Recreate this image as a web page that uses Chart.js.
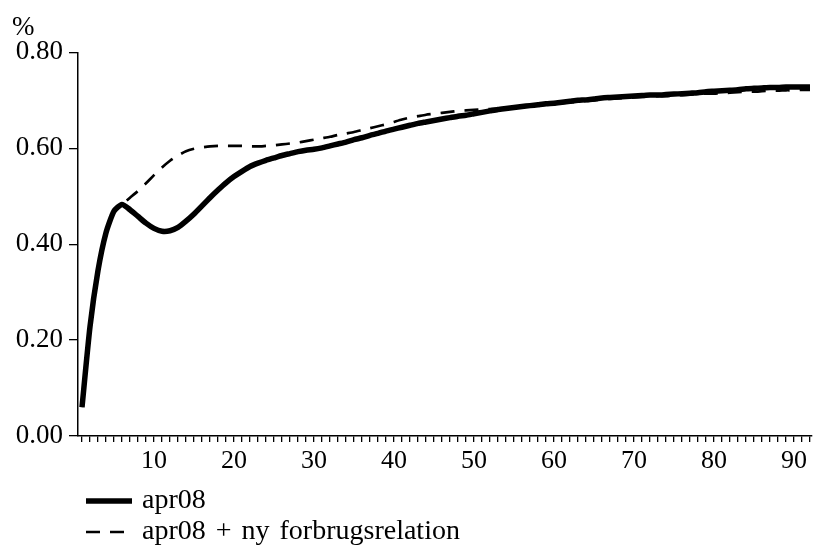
<!DOCTYPE html>
<html>
<head>
<meta charset="utf-8">
<script src="https://cdn.jsdelivr.net/npm/chart.js@4.4.1/dist/chart.umd.min.js"></script>
<style>
	html, body { margin: 0; padding: 0; background: #fff; }
</style>
</head>
<body>
<canvas id="myChart" width="814" height="545"></canvas>
<script>
// categories (days / periods)
var days = [1, 2, 3, 4, 5, 6, 7, 8, 9, 10, 11, 12, 13, 14, 15, 16, 17, 18, 19, 20,
	21, 22, 23, 24, 25, 26, 27, 28, 29, 30, 31, 32, 33, 34, 35, 36, 37, 38, 39, 40,
	41, 42, 43, 44, 45, 46, 47, 48, 49, 50, 51, 52, 53, 54, 55, 56, 57, 58, 59, 60,
	61, 62, 63, 64, 65, 66, 67, 68, 69, 70, 71, 72, 73, 74, 75, 76, 77, 78, 79, 80,
	81, 82, 83, 84, 85, 86, 87, 88, 89, 90, 91, 92]

var apr08 = [0.060, 0.228, 0.345, 0.424, 0.469, 0.483, 0.472, 0.458, 0.444, 0.433,
	0.427, 0.428, 0.435, 0.448, 0.463, 0.480, 0.497, 0.513, 0.528, 0.541,
	0.552, 0.562, 0.569, 0.575, 0.580, 0.585, 0.589, 0.593, 0.596, 0.598,
	0.601, 0.605, 0.609, 0.613, 0.618, 0.622, 0.627, 0.631, 0.636, 0.640,
	0.644, 0.648, 0.652, 0.655, 0.658, 0.661, 0.664, 0.667, 0.669, 0.672,
	0.675, 0.678, 0.681, 0.683, 0.685, 0.687, 0.689, 0.691, 0.693, 0.694,
	0.696, 0.698, 0.700, 0.701, 0.703, 0.705, 0.706, 0.707, 0.708, 0.709,
	0.710, 0.711, 0.711, 0.712, 0.713, 0.714, 0.715, 0.716, 0.718, 0.719,
	0.720, 0.721, 0.722, 0.724, 0.725, 0.726, 0.727, 0.727, 0.728, 0.728,
	0.728, 0.728]

var apr08Ny = [0.060, 0.228, 0.345, 0.424, 0.469, 0.483, 0.497, 0.511, 0.527, 0.544,
	0.560, 0.574, 0.585, 0.594, 0.599, 0.602, 0.604, 0.605, 0.605, 0.605,
	0.605, 0.604, 0.604, 0.605, 0.606, 0.608, 0.610, 0.612, 0.615, 0.618,
	0.621, 0.624, 0.628, 0.631, 0.634, 0.638, 0.642, 0.646, 0.650, 0.655,
	0.660, 0.664, 0.667, 0.670, 0.672, 0.674, 0.676, 0.678, 0.679, 0.680,
	0.681, 0.682, 0.683, 0.684, 0.685, 0.686, 0.688, 0.689, 0.691, 0.692,
	0.694, 0.696, 0.697, 0.699, 0.700, 0.702, 0.703, 0.704, 0.705, 0.706,
	0.707, 0.708, 0.709, 0.709, 0.710, 0.711, 0.712, 0.713, 0.714, 0.714,
	0.715, 0.716, 0.717, 0.718, 0.718, 0.719, 0.720, 0.720, 0.721, 0.721,
	0.722, 0.722]

var yTicks = [0, 0.2, 0.4, 0.6, 0.8]
var seriesNames = ['apr08', 'apr08 + ny forbrugsrelation']
var unitLabel = '%'

var serif = '"Liberation Serif", "Times New Roman", serif'

// legend drawn as two rows under the x axis
var legendRows = {
	id: 'legendRows',
	afterDraw: function(chart) {
		var c = chart.ctx
		var area = chart.chartArea
		chart.data.datasets.forEach(function(ds, i) {
			var x = area.left + 8
			var y = area.bottom + 65 + i * 31
			c.save()
			c.strokeStyle = ds.borderColor
			c.lineWidth = ds.borderWidth
			c.setLineDash(ds.borderDash || [])
			c.beginPath()
			c.moveTo(x, y)
			c.lineTo(x + 46, y)
			c.stroke()
			c.setLineDash([])
			c.fillStyle = '#000'
			c.font = '28px ' + serif
			if ('wordSpacing' in c) c.wordSpacing = '3px'
			c.textBaseline = 'middle'
			c.textAlign = 'left'
			c.fillText(ds.label, x + 56, y)
			c.restore()
		})
	}
}

var ctx = document.getElementById('myChart')

window.myChart = new Chart(ctx, {
	type: 'line',
	data: {
		labels: days,
		datasets: [{
			label: seriesNames[0],
			data: apr08,
			borderColor: '#000',
			backgroundColor: '#000',
			borderWidth: 5.5,
			pointRadius: 0,
			tension: 0.2
		}, {
			label: seriesNames[1],
			data: apr08Ny,
			borderColor: '#000',
			backgroundColor: '#000',
			borderWidth: 2.7,
			borderDash: [14, 10],
			pointRadius: 0,
			tension: 0.2
		}]
	},
	options: {
		responsive: false,
		animation: false,
		layout: {
			padding: { left: 12, right: 1, top: 0, bottom: 69 }
		},
		plugins: {
			legend: { display: false },
			tooltip: { enabled: false },
			title: {
				display: true,
				text: unitLabel,
				align: 'start',
				color: '#000',
				font: { family: serif, size: 27, weight: 'normal' },
				padding: { top: 12, bottom: 8 }
			}
		},
		scales: {
			x: {
				type: 'linear',
				min: 0.5,
				max: 92.25,
				afterBuildTicks: function(s) {
					s.ticks = days.map(function(d) { return { value: d } })
				},
				afterFit: function(s) { s.height = 40 },
				grid: { drawOnChartArea: false, tickLength: 6, color: '#000', lineWidth: 1.3 },
				border: { color: '#000', width: 1.5 },
				ticks: {
					autoSkip: false,
					maxRotation: 0,
					padding: 4,
					color: '#000',
					font: { family: serif, size: 26 },
					callback: function(v) { return v % 10 === 0 ? String(v) : '' }
				}
			},
			y: {
				min: 0,
				max: 0.8,
				afterBuildTicks: function(s) {
					s.ticks = yTicks.map(function(v) { return { value: v } })
				},
				afterFit: function(s) { s.width = 66 },
				grid: { drawOnChartArea: false, tickLength: 9, color: '#000', lineWidth: 1.3 },
				border: { color: '#000', width: 1.5 },
				ticks: {
					autoSkip: false,
					padding: 6,
					color: '#000',
					font: { family: serif, size: 27 },
					callback: function(v) { return Number(v).toFixed(2) }
				}
			}
		}
	},
	plugins: [legendRows]
})
</script>
</body>
</html>
